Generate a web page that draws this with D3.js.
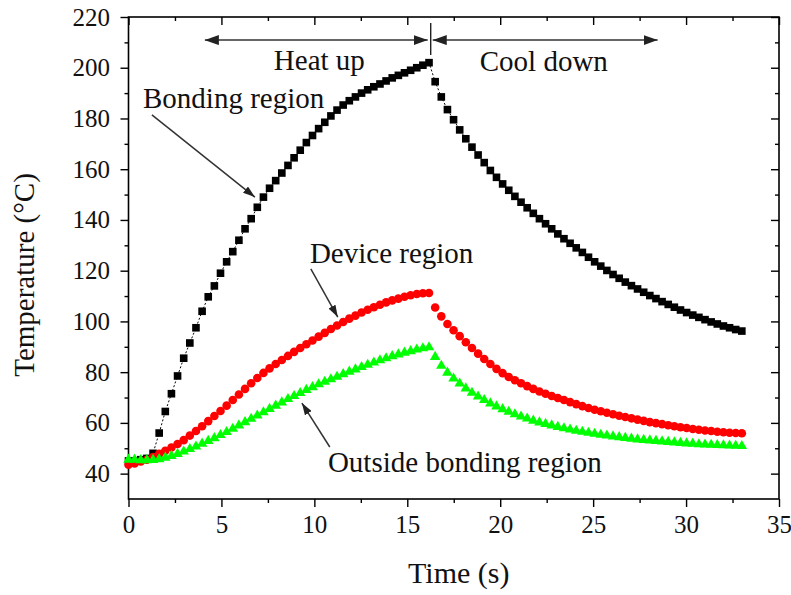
<!DOCTYPE html>
<html>
<head>
<meta charset="utf-8">
<script src="https://cdn.jsdelivr.net/npm/d3@7"></script>
<style>
  html, body { margin: 0; padding: 0; background: #fff; }
  svg { display: block; font-family: "Liberation Serif", "Times New Roman", serif; }
</style>
</head>
<body>
<svg id="chart" width="791" height="595"></svg>
<script>
// ---------------- data ----------------
const times = [
  0, 0.33, 0.66, 0.99, 1.32, 1.65, 1.98, 2.31, 2.64, 2.97,
  3.3, 3.63, 3.96, 4.29, 4.62, 4.95, 5.28, 5.61, 5.94, 6.27,
  6.6, 6.93, 7.26, 7.59, 7.92, 8.25, 8.58, 8.91, 9.24, 9.57,
  9.9, 10.23, 10.56, 10.89, 11.22, 11.55, 11.88, 12.21, 12.54, 12.87,
  13.2, 13.53, 13.86, 14.19, 14.52, 14.85, 15.18, 15.51, 15.84, 16.17,
  16.5, 16.83, 17.16, 17.49, 17.82, 18.15, 18.48, 18.81, 19.14, 19.47,
  19.8, 20.13, 20.46, 20.79, 21.12, 21.45, 21.78, 22.11, 22.44, 22.77,
  23.1, 23.43, 23.76, 24.09, 24.42, 24.75, 25.08, 25.41, 25.74, 26.07,
  26.4, 26.73, 27.06, 27.39, 27.72, 28.05, 28.38, 28.71, 29.04, 29.37,
  29.7, 30.03, 30.36, 30.69, 31.02, 31.35, 31.68, 32.01, 32.34, 32.67,
  33.0
];

const bondingRegion = [
  45, 45, 45.5, 46, 48, 56, 64.5, 71.5, 78.5, 85.5,
  91.5, 97.5, 104, 109.7, 114, 119, 123.5, 127.5, 132, 136.5,
  140.5, 145, 149, 152.5, 155.5, 158.5, 161.5, 164.5, 167.5, 170.5,
  173.3, 176, 178.5, 181, 183.3, 185.3, 187, 188.5, 190, 191.3,
  192.5, 193.6, 194.8, 196, 197, 198, 199, 200, 201, 202,
  194.5, 188.5, 183.5, 179.5, 175.5, 172, 168.7, 165.6, 162.6, 159.5,
  156.8, 154.2, 151.7, 149.3, 147, 144.8, 142.6, 140.5, 138.5, 136.5,
  134.5, 132.6, 130.8, 129, 127.2, 125.3, 123.5, 121.8, 120.1, 118.5,
  117, 115.5, 114.1, 112.8, 111.5, 110.2, 109, 107.8, 106.7, 105.6,
  104.5, 103.5, 102.5, 101.6, 100.7, 99.8, 99, 98.2, 97.5, 96.8,
  96.2
];

const deviceRegion = [
  43.5, 44, 44.8, 45.5, 46.5, 47.8, 49, 50.3, 51.7, 53.2,
  55, 56.8, 58.7, 60.7, 62.7, 64.7, 66.8, 69, 71.2, 73.4,
  75.6, 77.7, 79.7, 81.5, 83.2, 84.8, 86.4, 88, 89.5, 91,
  92.5, 94, 95.5, 97, 98.4, 99.8, 101.1, 102.3, 103.5, 104.6,
  105.6, 106.6, 107.5, 108.3, 109, 109.7, 110.3, 110.8, 111.1, 111.2,
  105.5, 102, 99, 96.5, 94.2, 91.8, 89.5, 87.3, 85.2, 83.2,
  81.3, 79.6, 78.1, 76.8, 75.6, 74.5, 73.4, 72.4, 71.5, 70.6,
  69.8, 69, 68.2, 67.4, 66.6, 65.9, 65.2, 64.6, 64, 63.4,
  62.8, 62.3, 61.8, 61.3, 60.8, 60.3, 59.9, 59.5, 59.1, 58.7,
  58.3, 58, 57.6, 57.3, 57, 56.8, 56.5, 56.3, 56.1, 56,
  55.9
];

const outsideRegion = [
  45.5, 45.5, 45.3, 45.3, 45.4, 45.7, 46.3, 47, 47.8, 48.7,
  49.7, 50.7, 51.8, 52.9, 54, 55.2, 56.4, 57.7, 59, 60.3,
  61.6, 62.9, 64.2, 65.5, 66.8, 68.1, 69.4, 70.6, 71.8, 73,
  74.1, 75.2, 76.2, 77.2, 78.2, 79.2, 80.2, 81.1, 82, 82.9,
  83.8, 84.7, 85.5, 86.3, 87, 87.7, 88.3, 88.9, 89.4, 89.8,
  86, 82.5, 79.8, 77.5, 75.5, 73.6, 71.9, 70.4, 69, 67.7,
  66.5, 65.4, 64.4, 63.4, 62.5, 61.7, 60.9, 60.2, 59.6, 59,
  58.4, 57.9, 57.4, 56.9, 56.5, 56.1, 55.7, 55.3, 55, 54.7,
  54.4, 54.1, 53.8, 53.5, 53.3, 53.1, 52.9, 52.7, 52.5, 52.3,
  52.1, 51.9, 51.8, 51.6, 51.5, 51.4, 51.3, 51.2, 51.1, 51,
  50.9
];

const xTicks = [0, 5, 10, 15, 20, 25, 30, 35];
const xMinorTicks = [2.5, 7.5, 12.5, 17.5, 22.5, 27.5, 32.5];
const yTicks = [40, 60, 80, 100, 120, 140, 160, 180, 200, 220];
const yMinorTicks = [50, 70, 90, 110, 130, 150, 170, 190, 210];

const xTitle = "Time (s)";
const yTitle = "Temperature (°C)";

// ---------------- layout ----------------
const svg = d3.select("#chart");
const L = 128.5, R = 779, T = 17, B = 499;
const x = d3.scaleLinear().domain([0, 35]).range([L, R]);
const y = d3.scaleLinear().domain([30, 220]).range([B, T]);

const tickFont = "25px";
const axisColor = "#000";

// frame
svg.append("rect").attr("x", L).attr("y", T).attr("width", R - L).attr("height", B - T)
  .attr("fill", "none").attr("stroke", axisColor).attr("stroke-width", 1.6);

function styleAxis(g) {
  g.select(".domain").remove();
  g.selectAll("line").attr("stroke", axisColor).attr("stroke-width", 1.4);
  g.selectAll("text").attr("fill", "#111").style("font-size", tickFont)
    .style("font-family", '"Liberation Serif", "Times New Roman", serif');
}

// bottom (outward)
svg.append("g").attr("transform", `translate(0,${B})`)
  .call(d3.axisBottom(x).tickValues(xTicks).tickFormat(d3.format("d")).tickSize(8).tickSizeOuter(0).tickPadding(8.5))
  .call(styleAxis);
svg.append("g").attr("transform", `translate(0,${B})`)
  .call(d3.axisBottom(x).tickValues(xMinorTicks).tickFormat("").tickSize(4).tickSizeOuter(0))
  .call(styleAxis);
// top (inward)
svg.append("g").attr("transform", `translate(0,${T})`)
  .call(d3.axisTop(x).tickValues(xTicks).tickFormat("").tickSize(-8).tickSizeOuter(0))
  .call(styleAxis);
svg.append("g").attr("transform", `translate(0,${T})`)
  .call(d3.axisTop(x).tickValues(xMinorTicks).tickFormat("").tickSize(-4).tickSizeOuter(0))
  .call(styleAxis);
// left (outward)
svg.append("g").attr("transform", `translate(${L},0)`)
  .call(d3.axisLeft(y).tickValues(yTicks).tickFormat(d3.format("d")).tickSize(8).tickSizeOuter(0).tickPadding(10.5))
  .call(styleAxis);
svg.append("g").attr("transform", `translate(${L},0)`)
  .call(d3.axisLeft(y).tickValues(yMinorTicks).tickFormat("").tickSize(4).tickSizeOuter(0))
  .call(styleAxis);
// right (inward)
svg.append("g").attr("transform", `translate(${R},0)`)
  .call(d3.axisRight(y).tickValues(yTicks).tickFormat("").tickSize(-8).tickSizeOuter(0))
  .call(styleAxis);
svg.append("g").attr("transform", `translate(${R},0)`)
  .call(d3.axisRight(y).tickValues(yMinorTicks).tickFormat("").tickSize(-4).tickSizeOuter(0))
  .call(styleAxis);

// axis titles
svg.append("text").attr("x", (L + R) / 2 + 5).attr("y", 583)
  .attr("text-anchor", "middle").style("font-size", "30px").attr("fill", "#111").text(xTitle);
svg.append("text").attr("transform", `translate(34,${(T + B) / 2 + 17}) rotate(-90)`)
  .attr("text-anchor", "middle").style("font-size", "29px").attr("fill", "#111").text(yTitle);

// ---------------- series ----------------
const bonding = times.map((t, i) => ({ t, v: bondingRegion[i] }));
const device = times.map((t, i) => ({ t, v: deviceRegion[i] }));
const outside = times.map((t, i) => ({ t, v: outsideRegion[i] }));

const line = d3.line().x(d => x(d.t)).y(d => y(d.v));
svg.append("path").datum(bonding).attr("d", line)
  .attr("fill", "none").attr("stroke", "#000").attr("stroke-width", 1).attr("stroke-dasharray", "2,2");

svg.append("g").selectAll("path").data(bonding).join("path")
  .attr("transform", d => `translate(${x(d.t)},${y(d.v)})`)
  .attr("d", d3.symbol(d3.symbolSquare, 58)()).attr("fill", "#000");

svg.append("g").selectAll("circle").data(device).join("circle")
  .attr("cx", d => x(d.t)).attr("cy", d => y(d.v)).attr("r", 4.3).attr("fill", "#ff0000");

svg.append("g").selectAll("path").data(outside).join("path")
  .attr("transform", d => `translate(${x(d.t)},${y(d.v)})`)
  .attr("d", d3.symbol(d3.symbolTriangle, 48)()).attr("fill", "#00ff00");

// ---------------- annotations ----------------
const defs = svg.append("defs");
defs.append("marker").attr("id", "ah").attr("viewBox", "0 0 14 10").attr("refX", 14).attr("refY", 5)
  .attr("markerWidth", 14).attr("markerHeight", 10).attr("markerUnits", "userSpaceOnUse")
  .attr("orient", "auto-start-reverse")
  .append("path").attr("d", "M0,0 L14,5 L0,10 Z").attr("fill", "#222");
defs.append("marker").attr("id", "ahs").attr("viewBox", "0 0 12 8").attr("refX", 12).attr("refY", 4)
  .attr("markerWidth", 12).attr("markerHeight", 8).attr("markerUnits", "userSpaceOnUse")
  .attr("orient", "auto")
  .append("path").attr("d", "M0,0 L12,4 L0,8 Z").attr("fill", "#222");

function arrow(t1, v1, t2, v2, both, id) {
  const p = svg.append("line").attr("x1", x(t1)).attr("y1", y(v1)).attr("x2", x(t2)).attr("y2", y(v2))
    .attr("stroke", "#333").attr("stroke-width", 1.5).attr("marker-end", `url(#${id})`);
  if (both) p.attr("marker-start", `url(#${id})`);
}
function label(t, v, s) {
  svg.append("text").attr("x", x(t)).attr("y", y(v)).style("font-size", "29px").attr("fill", "#111").text(s);
}

arrow(4.11, 210.9, 16.1, 210.9, true, "ah");
arrow(16.37, 210.9, 28.47, 210.9, true, "ah");
svg.append("line").attr("x1", x(16.26)).attr("x2", x(16.26)).attr("y1", y(217.6)).attr("y2", y(205))
  .attr("stroke", "#222").attr("stroke-width", 1.4);

label(7.82, 199.1, "Heat up");
label(18.9, 198.7, "Cool down");
label(0.78, 184, "Bonding region");
arrow(1.26, 181.4, 6.8, 149.0, false, "ahs");
label(9.76, 123, "Device region");
arrow(9.81, 120.7, 11.26, 101.7, false, "ahs");
label(10.73, 40.6, "Outside bonding region");
arrow(10.83, 50.5, 9.33, 67.8, false, "ahs");
</script>
</body>
</html>
